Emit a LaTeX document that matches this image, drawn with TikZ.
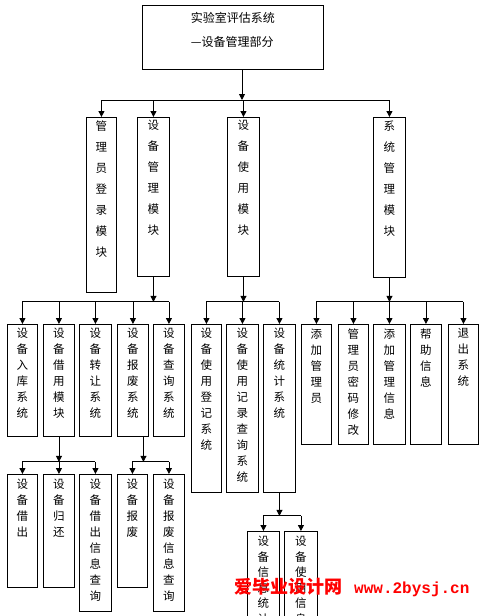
\documentclass[tikz,border=0pt]{standalone}
\usepackage{fontspec}
\setmainfont{Noto Sans CJK SC}
\newfontfamily\wmlat{Liberation Mono}
\usetikzlibrary{arrows.meta}
\newcommand{\vt}[4]{\parbox[c][#1pt][t]{18pt}{\vspace*{#3pt}\centering\fontsize{11.5}{#2}\selectfont #4\par}}
\tikzset{
  box/.style={draw, line width=0.9pt, inner sep=0pt, anchor=north west},
  arr/.style={-{Triangle[length=6pt,width=6pt]}, line width=0.9pt},
  ln/.style={line width=0.9pt},
  wm/.style={text=red, inner sep=0pt, anchor=west}
}
\begin{document}
\begin{tikzpicture}[x=1pt,y=-1pt]
\useasboundingbox (0,0) rectangle (489,616);
\clip (0,0) rectangle (489,616);
\fill[white] (0,0) rectangle (489,616);
% title
\node[box, minimum width=181pt] (title) at (142,5)
  {\parbox[c][64pt][t]{84pt}{\vspace*{7pt}\fontsize{12}{24}\selectfont 实验室评估系统\\—设备管理部分\par}};
% level 2
\node[box, minimum width=30pt] (a1) at (86,117) {\vt{175}{21}{3}{管\\理\\员\\登\\录\\模\\块}};
\node[box, minimum width=32pt] (a2) at (137,117) {\vt{159}{21}{3}{设\\备\\管\\理\\模\\块}};
\node[box, minimum width=32pt] (a3) at (227,117) {\vt{159}{21}{3}{设\\备\\使\\用\\模\\块}};
\node[box, minimum width=32pt] (a4) at (373,117) {\vt{160}{21}{3}{系\\统\\管\\理\\模\\块}};
% level 3 left
\node[box, minimum width=30pt] (b1) at (7,324) {\vt{112}{16}{4}{设\\备\\入\\库\\系\\统}};
\node[box, minimum width=31pt] (b2) at (43,324) {\vt{112}{16}{4}{设\\备\\借\\用\\模\\块}};
\node[box, minimum width=32pt] (b3) at (79,324) {\vt{112}{16}{4}{设\\备\\转\\让\\系\\统}};
\node[box, minimum width=31pt] (b4) at (117,324) {\vt{112}{16}{4}{设\\备\\报\\废\\系\\统}};
\node[box, minimum width=31pt] (b5) at (153,324) {\vt{112}{16}{4}{设\\备\\查\\询\\系\\统}};
% level 3 middle
\node[box, minimum width=30pt] (c1) at (191,324) {\vt{168}{16}{4}{设\\备\\使\\用\\登\\记\\系\\统}};
\node[box, minimum width=32pt] (c2) at (226,324) {\vt{168}{16}{4}{设\\备\\使\\用\\记\\录\\查\\询\\系\\统}};
\node[box, minimum width=32pt] (c3) at (263,324) {\vt{168}{16}{4}{设\\备\\统\\计\\系\\统}};
% level 3 right
\node[box, minimum width=30pt] (d1) at (301,324) {\vt{120}{16}{4}{添\\加\\管\\理\\员}};
\node[box, minimum width=30pt] (d2) at (338,324) {\vt{120}{16}{4}{管\\理\\员\\密\\码\\修\\改}};
\node[box, minimum width=32pt] (d3) at (373,324) {\vt{120}{16}{4}{添\\加\\管\\理\\信\\息}};
\node[box, minimum width=31pt] (d4) at (410,324) {\vt{120}{16}{4}{帮\\助\\信\\息}};
\node[box, minimum width=30pt] (d5) at (448,324) {\vt{120}{16}{4}{退\\出\\系\\统}};
% level 4
\node[box, minimum width=30pt] (e1) at (7,474) {\vt{113}{16}{5}{设\\备\\借\\出}};
\node[box, minimum width=31pt] (e2) at (43,474) {\vt{113}{16}{5}{设\\备\\归\\还}};
\node[box, minimum width=32pt] (e3) at (79,474) {\vt{137}{16}{5}{设\\备\\借\\出\\信\\息\\查\\询}};
\node[box, minimum width=30pt] (e4) at (117,474) {\vt{113}{16}{5}{设\\备\\报\\废}};
\node[box, minimum width=31pt] (e5) at (153,474) {\vt{137}{16}{5}{设\\备\\报\\废\\信\\息\\查\\询}};
\node[box, minimum width=32pt] (f1) at (247,531) {\vt{110}{15.5}{5}{设\\备\\信\\息\\统\\计}};
\node[box, minimum width=33pt] (f2) at (284,531) {\vt{110}{15.5}{5}{设\\备\\使\\用\\信\\息}};
% bus coordinates
\coordinate (bus1) at (242,100);
\path (a2.south) ++(0,25) coordinate (bus2);
\path (a3.south) ++(0,25) coordinate (bus3);
\path (a4.south) ++(0,24) coordinate (bus4);
\path (b2.south) ++(0,25) coordinate (bus5);
\path ([xshift=10.5pt]b4.south) ++(0,25) coordinate (bus6);
\path (c3.south) ++(0,23) coordinate (bus7);
% connectors
\draw[arr] (title.south -| bus1) -- (bus1);
\draw[ln] (a1.north |- bus1) -- (a4.north |- bus1);
\foreach \n in {a1,a2,a3,a4} \draw[arr] (\n.north |- bus1) -- (\n.north);
\draw[arr] (a2.south) -- (bus2);
\draw[ln] (b1.north |- bus2) -- (b5.north |- bus2);
\foreach \n in {b1,b2,b3,b4,b5} \draw[arr] (\n.north |- bus2) -- (\n.north);
\draw[arr] (a3.south) -- (bus3);
\draw[ln] (c1.north |- bus3) -- (c3.north |- bus3);
\foreach \n in {c1,c2,c3} \draw[arr] (\n.north |- bus3) -- (\n.north);
\draw[arr] (a4.south) -- (bus4);
\draw[ln] (d1.north |- bus4) -- (d5.north |- bus4);
\foreach \n in {d1,d2,d3,d4,d5} \draw[arr] (\n.north |- bus4) -- (\n.north);
\draw[arr] (b2.south) -- (bus5);
\draw[ln] (e1.north |- bus5) -- (e3.north |- bus5);
\foreach \n in {e1,e2,e3} \draw[arr] (\n.north |- bus5) -- (\n.north);
\draw[arr] (b4.south -| bus6) -- (bus6);
\draw[ln] (e4.north |- bus6) -- (e5.north |- bus6);
\foreach \n in {e4,e5} \draw[arr] (\n.north |- bus6) -- (\n.north);
\draw[arr] (c3.south) -- (bus7);
\draw[ln] (f1.north |- bus7) -- (f2.north |- bus7);
\foreach \n in {f1,f2} \draw[arr] (\n.north |- bus7) -- (\n.north);
% watermark
\node[wm] (wmark) at (234,588) {\fontsize{18}{18}\selectfont\bfseries 爱毕业设计网\hspace{12pt}{\wmlat\bfseries\fontsize{16}{16}\selectfont www.2bysj.cn}};
\end{tikzpicture}
\end{document}
